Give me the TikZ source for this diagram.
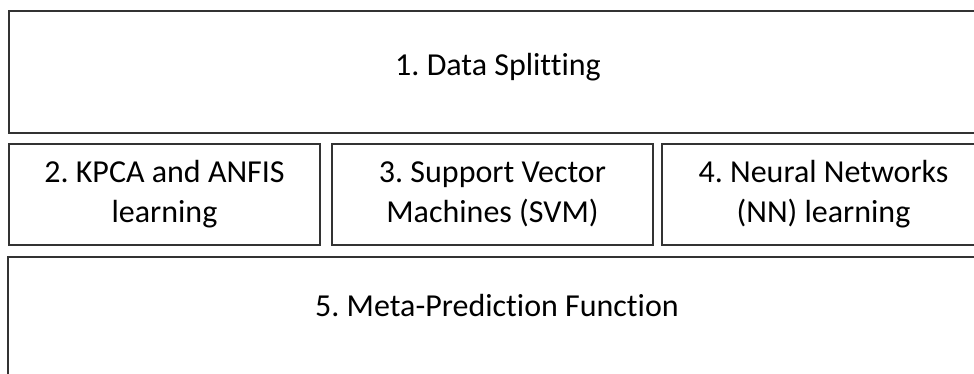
\documentclass[tikz,border=0pt]{standalone}
\usepackage{fontspec}
\setmainfont{Carlito}[Ligatures=NoCommon]
\frenchspacing
\begin{document}
\begin{tikzpicture}[x=1pt,y=-1pt,
        stage/.style={draw=black!80,line width=2pt,inner sep=0pt,align=center,
            font=\fontsize{32}{40}\selectfont}]
        \useasboundingbox (0,0) rectangle (974,374);
        \clip (0,0) rectangle (974,374);
        \node[stage,minimum width=978,text height=65,text depth=57] (split) at (498,72) {1. Data Splitting};
        \node[stage,minimum width=311,minimum height=101] (kpca) at (164.5,194.5) {2. KPCA and ANFIS\\learning};
        \node[stage,minimum width=321,minimum height=101] (svm) at (492.5,194.5) {3. Support Vector\\Machines (SVM)};
        \node[stage,minimum width=323,minimum height=101] (nn) at (823.5,194.5) {4. Neural Networks\\(NN) learning};
        \node[stage,minimum width=978,text height=59,text depth=63] (meta) at (497,318) {5. Meta-Prediction Function};
    \end{tikzpicture}
\end{document}
